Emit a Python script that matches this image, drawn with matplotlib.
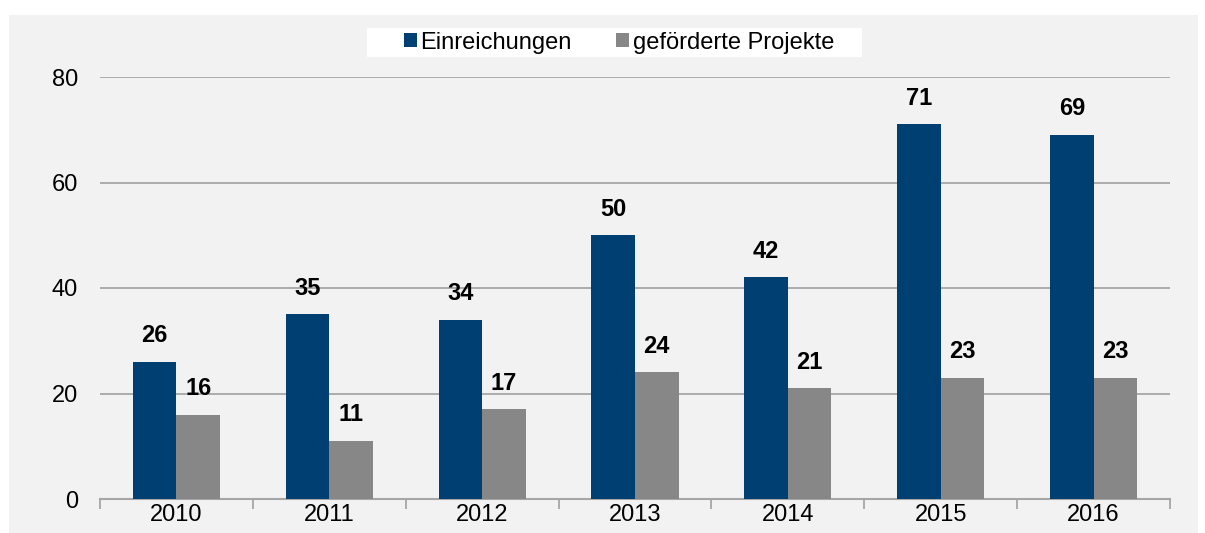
import matplotlib.pyplot as plt
import numpy as np
from matplotlib.patches import Rectangle

plt.rcParams['font.family'] = ['Liberation Sans', 'DejaVu Sans']

years = ['2010', '2011', '2012', '2013', '2014', '2015', '2016']
einreichungen = [26, 35, 34, 50, 42, 71, 69]
gefoerdert = [16, 11, 17, 24, 21, 23, 23]

blue = '#003F72'
grey = '#878787'
panel = '#F2F2F2'
gridc = '#A6A6A6'

fig = plt.figure(figsize=(12.05, 5.33), dpi=100)
W, H = 1205, 533

# grey panel behind the chart, white box behind the legend
fig.patches.append(Rectangle((9 / W, 0), (1198 - 9) / W, 1 - 15 / H,
                             transform=fig.transFigure, facecolor=panel,
                             edgecolor='none', zorder=-2))
fig.patches.append(Rectangle((367 / W, 1 - 57 / H), (862 - 367) / W, 29 / H,
                             transform=fig.transFigure, facecolor='white',
                             edgecolor='none', zorder=-1))

ax = fig.add_axes([100 / W, 1 - 499 / H, (1170 - 100) / W, (499 - 77) / H])
ax.set_facecolor(panel)
ax.set_zorder(1)

x = np.arange(len(years))
w = 0.285
b1 = ax.bar(x - w / 2, einreichungen, w, color=blue, label='Einreichungen', zorder=3)
b2 = ax.bar(x + w / 2, gefoerdert, w, color=grey, label='geförderte Projekte', zorder=3)

for bars in (b1, b2):
    for r in bars:
        ax.annotate(str(int(r.get_height())), (r.get_x() + r.get_width() / 2, r.get_height()),
                    xytext=(0, 10.5), textcoords='offset points', ha='center', va='bottom',
                    fontsize=17, fontweight='bold', color='black')

ax.set_ylim(0, 80)
ax.set_xlim(-0.5, len(years) - 0.5)
ax.set_yticks([0, 20, 40, 60, 80])
ax.yaxis.grid(True, color=gridc, linewidth=1.3, zorder=1)
ax.set_axisbelow(True)

ax.set_xticks(x)
ax.set_xticklabels(years)
ax.set_xticks(np.arange(-0.5, len(years)), minor=True)
ax.tick_params(axis='x', which='major', length=0, pad=3.5, labelsize=17)
ax.tick_params(axis='x', which='minor', length=7, width=1.3, color=gridc)
ax.tick_params(axis='y', length=0, pad=16, labelsize=17)

for s in ['top', 'right', 'left']:
    ax.spines[s].set_visible(False)
ax.spines['bottom'].set_color(gridc)
ax.spines['bottom'].set_linewidth(1.5)

leg = fig.legend(handles=[b1, b2], loc='center', bbox_to_anchor=(619 / W, 1 - 42.5 / H),
                 ncol=2, frameon=False, fontsize=17,
                 handlelength=0.55, handleheight=0.55, handletextpad=0.15,
                 columnspacing=1.9)

fig.savefig('out.png', dpi=100, facecolor='white')
